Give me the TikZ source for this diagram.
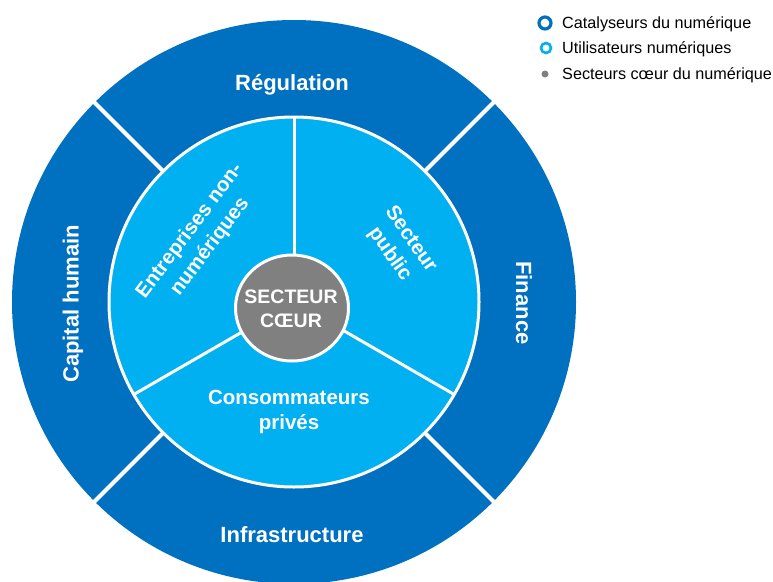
\documentclass[tikz,border=0pt]{standalone}
\usepackage{fontspec}
\setmainfont{Liberation Sans}
\usetikzlibrary{shapes.geometric}
\definecolor{darkb}{RGB}{0,112,192}
\definecolor{lightb}{RGB}{0,176,240}
\definecolor{coregray}{RGB}{128,128,128}
\begin{document}
\begin{tikzpicture}[x=1pt,y=-1pt,
  outerlbl/.style={text=white,font=\fontsize{22}{26}\selectfont\bfseries,align=center},
  innerlbl/.style={text=white,font=\fontsize{20.5}{25.5}\selectfont\bfseries,align=center},
  corelbl/.style={text=white,font=\fontsize{19.5}{24}\selectfont\bfseries,align=center},
  leglbl/.style={text=black,font=\fontsize{16.2}{19}\selectfont,anchor=west,inner sep=0pt},
  divider/.style={draw=white,line width=4pt},
  innerdiv/.style={draw=white,line width=3pt}]
\useasboundingbox (0,0) rectangle (773,581);
\coordinate (c) at (294,302);
% outer ring
\fill[darkb] (c) circle (282pt);
\foreach \a in {45,135,225,315}
  \draw[divider] (c) -- ++(\a:-290);
% inner disc
\draw[fill=lightb,draw=white,line width=3pt] (c) circle (185pt);
\foreach \a in {90,210,330}
  \draw[innerdiv] (c) -- ++(\a:-185);
% core
\node[ellipse,draw=white,line width=3pt,fill=coregray,minimum width=113pt,minimum height=106pt,inner sep=0pt] (core) at (292,308) {};
\node[corelbl] (coretxt) at (291,309) {SECTEUR\\CŒUR};
% outer labels
\node[outerlbl] (reg) at (292,85) {Régulation};
\node[outerlbl] (inf) at (292,535) {Infrastructure};
\node[outerlbl,rotate=90] (cap) at (73,304) {Capital humain};
\node[outerlbl,rotate=-90] (fin) at (524,303) {Finance};
% inner labels
\node[innerlbl,rotate=53] (ent) at (200,239) {Entreprises non-\\numériques};
\node[innerlbl,rotate=-55] (pub) at (400,247) {Secteur\\public};
\node[innerlbl] (cons) at (289,412) {Consommateurs\\privés};
% legend
\draw[darkb,line width=3.2pt] (545,23) circle (6pt);
\draw[lightb,line width=2.6pt] (546,48) circle (5pt);
\fill[coregray] (545,74) circle (3.5pt);
\node[leglbl] (l1) at (562,24.5) {Catalyseurs du numérique};
\node[leglbl] (l2) at (562,49.5) {Utilisateurs numériques};
\node[leglbl] (l3) at (562,75.5) {Secteurs cœur du numérique};
\end{tikzpicture}
\end{document}
